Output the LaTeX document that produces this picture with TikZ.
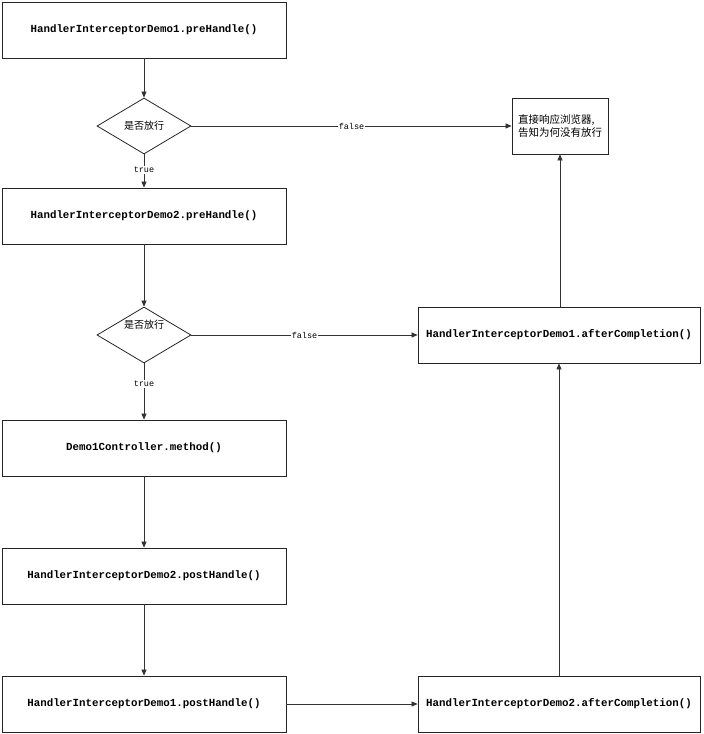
\documentclass[tikz,border=0pt]{standalone}
\usepackage{fontspec}
\setmonofont{Liberation Mono}
\newfontfamily\cjk{Noto Sans CJK SC}
\usetikzlibrary{shapes.geometric,arrows.meta}
\begin{document}
\begin{tikzpicture}[x=1pt,y=-1pt,
  box/.style={draw=black!85,line width=0.8pt,minimum width=284pt,minimum height=56pt,inner sep=0pt,font=\ttfamily\bfseries\fontsize{10.8}{12}\selectfont},
  rbox/.style={box,minimum width=282pt},
  dec/.style={draw=black!85,line width=0.8pt,diamond,aspect=1.68,minimum width=94pt,minimum height=56pt,inner sep=0pt,font=\cjk\fontsize{10}{12}\selectfont},
  note/.style={draw=black!85,line width=0.8pt,minimum width=96pt,minimum height=56pt,inner sep=0pt,align=left,font=\cjk\fontsize{10.5}{13.5}\selectfont},
  arr/.style={draw=black!80,line width=0.7pt,-{Triangle[length=6pt,width=5pt]}},
  lab/.style={fill=white,inner sep=1pt,font=\ttfamily\fontsize{8.5}{10}\selectfont}]
\useasboundingbox (0,0) rectangle (704,734);
\node[box] (b1) at (144,30) {HandlerInterceptorDemo1.preHandle()};
\node[dec] (d1) at (144,126) {是否放行};
\node[box] (b2) at (144,216) {HandlerInterceptorDemo2.preHandle()};
\node[dec] (d2) at (144,335) {\raisebox{7pt}[0pt][0pt]{是否放行}};
\node[box] (b3) at (144,448) {Demo1Controller.method()};
\node[box] (b4) at (144,576) {HandlerInterceptorDemo2.postHandle()};
\node[box] (b5) at (144,704) {HandlerInterceptorDemo1.postHandle()};
\node[note] (n1) at (560,126) {直接响应浏览器,\\告知为何没有放行};
\node[rbox] (r1) at (559,335) {HandlerInterceptorDemo1.afterCompletion()};
\node[rbox] (r2) at (559,704) {HandlerInterceptorDemo2.afterCompletion()};
\draw[arr] (b1) -- (d1);
\draw[arr] (d1) -- node[lab,pos=0.47]{true} (b2);
\draw[arr] (d1) -- node[lab,pos=0.5]{false} (n1);
\draw[arr] (b2) -- (d2);
\draw[arr] (d2) -- node[lab,pos=0.37]{true} (b3);
\draw[arr] (d2) -- node[lab,pos=0.5]{false} (r1);
\draw[arr] (b3) -- (b4);
\draw[arr] (b4) -- (b5);
\draw[arr] (b5) -- (r2);
\draw[arr] (r2) -- (r1);
\draw[arr] (r1.north -| n1.south) -- (n1.south);
\end{tikzpicture}
\end{document}
